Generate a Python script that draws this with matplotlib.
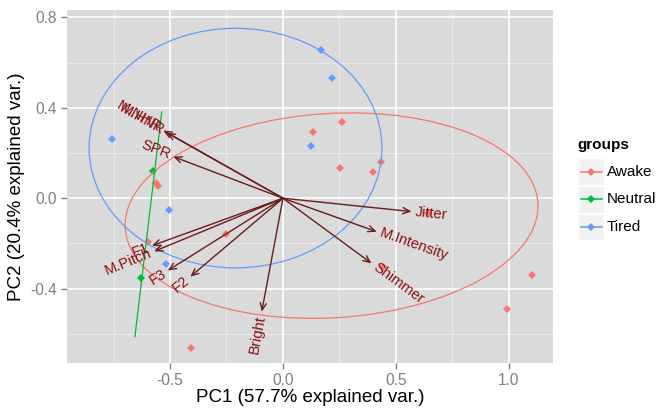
import numpy as np
import matplotlib
matplotlib.use('Agg')
import matplotlib.pyplot as plt
from matplotlib.patches import Ellipse, Rectangle
from matplotlib.lines import Line2D

plt.rcParams['font.family'] = ['Liberation Sans', 'DejaVu Sans']

# 各组样本点 (PC1, PC2)
awake_x = [0.134, 0.259, 0.252, 0.397, 0.434, -0.560, -0.553, -0.254, -0.407,
           0.441, 0.643, 0.990, 1.100, -0.597]
awake_y = [0.292, 0.339, 0.135, 0.118, 0.162, 0.066, 0.052, -0.158, -0.661,
           -0.305, -0.066, -0.491, -0.339, -0.193]
neutral_x = [-0.575, -0.628]
neutral_y = [0.121, -0.354]
tired_x = [0.168, 0.217, 0.124, -0.755, -0.503, -0.519]
tired_y = [0.656, 0.532, 0.233, 0.264, -0.052, -0.291]

groups = ['Awake', 'Neutral', 'Tired']
colors = ['#F8766D', '#00BA38', '#619CFF']

# 置信椭圆: 中心, 半长轴, 半短轴, 角度 (Neutral 只有两个点, 退化成线段)
ell_cx = [0.215, -0.596, -0.210]
ell_cy = [-0.077, -0.115, 0.222]
ell_a = [0.915, 0.501, 0.648]
ell_b = [0.452, 0.0, 0.530]
ell_ang = [3.5, 83.2, 0]

# 变量载荷箭头
var_names = ['M.NHR', 'M.HNR', 'SPR', 'M.Pitch', 'F1', 'F3', 'F2', 'Bright',
             'Shimmer', 'M.Intensity', 'Jitter']
var_x = [-0.530, -0.515, -0.485, -0.570, -0.580, -0.510, -0.410, -0.094,
         0.392, 0.415, 0.569]
var_y = [0.300, 0.290, 0.184, -0.235, -0.210, -0.320, -0.347, -0.502,
         -0.288, -0.148, -0.059]

x_ticks = [-0.5, 0.0, 0.5, 1.0]
y_ticks = [-0.4, 0.0, 0.4, 0.8]

fig = plt.figure(figsize=(6.58, 4.13), dpi=100)
ax = fig.add_axes([0.1018, 0.1211, 0.7386, 0.8547])
ax.set_xlim(-0.956, 1.195)
ax.set_ylim(-0.729, 0.833)
ax.set_facecolor('#dadada')

# 网格
for v in [-0.75, -0.25, 0.25, 0.75]:
    ax.axvline(v, color='#ececec', lw=0.6, zorder=0)
for v in [-0.6, -0.2, 0.2, 0.6]:
    ax.axhline(v, color='#ececec', lw=0.6, zorder=0)
for v in x_ticks:
    ax.axvline(v, color='white', lw=1.2, zorder=0.5)
for v in y_ticks:
    ax.axhline(v, color='white', lw=1.2, zorder=0.5)

# 点
pts = [(awake_x, awake_y), (neutral_x, neutral_y), (tired_x, tired_y)]
for (px, py), c in zip(pts, colors):
    ax.plot(px, py, 'D', color=c, markersize=4.2, markeredgewidth=0, zorder=2)

# 椭圆
for i, c in enumerate(colors):
    if ell_b[i] == 0:
        t = np.radians(ell_ang[i])
        dx, dy = ell_a[i] * np.cos(t), ell_a[i] * np.sin(t)
        ax.plot([ell_cx[i] - dx, ell_cx[i] + dx], [ell_cy[i] - dy, ell_cy[i] + dy],
                color=c, lw=0.9, zorder=3)
        continue
    e = Ellipse((ell_cx[i], ell_cy[i]), 2 * ell_a[i], 2 * ell_b[i], angle=ell_ang[i],
                fill=False, edgecolor=c, lw=0.9, zorder=3)
    ax.add_patch(e)

# 箭头和标签
arrow_c = '#6a1c1c'
text_c = '#8b1010'
for name, vx, vy in zip(var_names, var_x, var_y):
    ax.annotate('', xy=(vx, vy), xytext=(0, 0),
                arrowprops=dict(arrowstyle='->,head_length=0.5,head_width=0.22',
                                color=arrow_c, lw=1.0, shrinkA=0, shrinkB=0),
                zorder=4)
    ang = np.degrees(np.arctan(vy / vx))
    d = np.array([vx, vy]) / np.hypot(vx, vy)
    ax.annotate(name, xy=(vx, vy), xytext=(d[0] * 2.5, d[1] * 2.5),
                textcoords='offset points', rotation=ang, rotation_mode='anchor',
                ha='left' if vx > 0 else 'right', va='center',
                fontsize=10.6, color=text_c, zorder=5)

ax.set_xticks(x_ticks)
ax.set_xticklabels(['-0.5', '0.0', '0.5', '1.0'])
ax.set_yticks(y_ticks)
ax.set_yticklabels(['-0.4', '0.0', '0.4', '0.8'])
ax.tick_params(colors='#7f7f7f', labelsize=11.2, length=4, width=1, pad=3)
for s in ax.spines.values():
    s.set_visible(False)

ax.set_xlabel('PC1 (57.7% explained var.)', fontsize=13.5, labelpad=1)
ax.set_ylabel('PC2 (20.4% explained var.)', fontsize=13.5, labelpad=4)

# 图例
W, H = 658, 413
fig.text(577.7 / W, 1 - 145 / H, 'groups', fontsize=11, fontweight='bold',
         ha='left', va='center')
for i, (g, c) in enumerate(zip(groups, colors)):
    yc = 171.7 + 27.7 * i
    fig.patches.append(Rectangle((577.7 / W, 1 - (yc + 13.3) / H), 26.5 / W, 26.6 / H,
                                 transform=fig.transFigure, facecolor='#f2f2f2',
                                 edgecolor='white', lw=1))
    fig.lines.append(Line2D([580.5 / W, 601.5 / W], [1 - yc / H, 1 - yc / H],
                            transform=fig.transFigure, color=c, lw=1.1,
                            marker=None))
    fig.lines.append(Line2D([591 / W], [1 - yc / H], transform=fig.transFigure,
                            color=c, marker='D', markersize=4, markeredgewidth=0))
    fig.text(606.7 / W, 1 - yc / H, g, fontsize=11, ha='left', va='center')

fig.savefig('out.png', dpi=100)
